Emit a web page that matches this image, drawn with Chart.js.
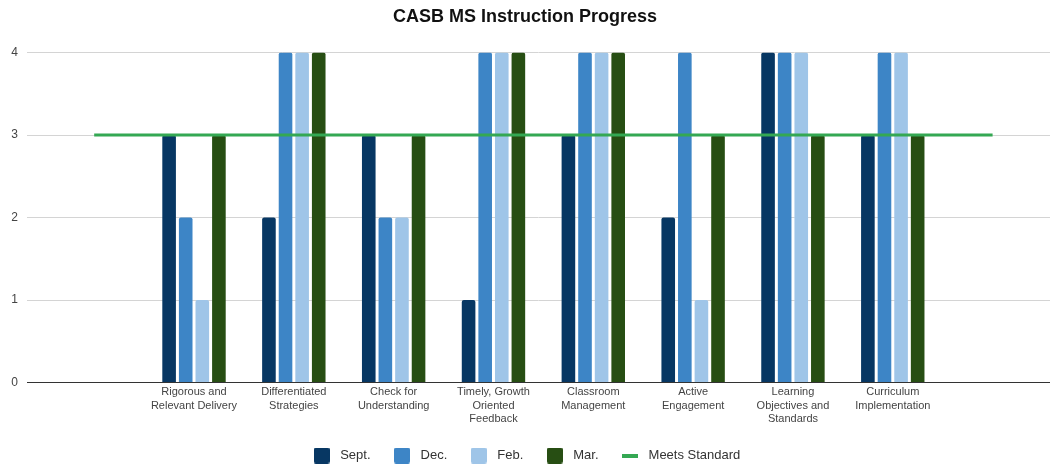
<!DOCTYPE html>
<html><head><meta charset="utf-8">
<script src="https://cdn.jsdelivr.net/npm/chart.js@4"></script>
<style>html,body{margin:0;padding:0;background:#fff}#wrap{width:1050px;height:466px}</style>
</head><body><div id="wrap"><canvas id="c" width="1050" height="466"></canvas></div>
<script>
// ---- data ----
const categories = [
  ["Rigorous and","Relevant Delivery"],
  ["Differentiated","Strategies"],
  ["Check for","Understanding"],
  ["Timely, Growth","Oriented","Feedback"],
  ["Classroom","Management"],
  ["Active","Engagement"],
  ["Learning","Objectives and","Standards"],
  ["Curriculum","Implementation"]
];
const seriesNames = ["Sept.","Dec.","Feb.","Mar."];
const sept = [3,2,3,1,3,2,4,3];
const dec  = [2,4,2,4,4,4,4,4];
const feb  = [1,4,2,4,4,1,4,4];
const mar  = [3,4,3,4,4,3,3,3];
const meetsStandardName = "Meets Standard";
const meetsStandard = [3,3,3,3,3,3,3,3,3,3];
const yTicks = [0,1,2,3,4];

// ---- styles ----
const colors = ["#073763","#3d85c6","#9fc5e8","#274e13"];
const lineColor = "#34a853";
const FONT = "'Liberation Sans', Arial, sans-serif";

function boxImg(color){
  const c=document.createElement('canvas'); c.width=16; c.height=16;
  const g=c.getContext('2d'); g.fillStyle=color; g.beginPath();
  if (g.roundRect) g.roundRect(0,0,16,16,2); else g.rect(0,0,16,16);
  g.fill(); return c;
}
function lineImg(color){
  const c=document.createElement('canvas'); c.width=16; c.height=4;
  const g=c.getContext('2d'); g.fillStyle=color; g.fillRect(0,0,16,4); return c;
}
const legendImgs = colors.map(boxImg).concat([lineImg(lineColor)]);

const seriesValues = [sept, dec, feb, mar];
const datasets = seriesValues.map((vals, s) => ({
  type: 'bar',
  label: seriesNames[s],
  data: vals.map((v,i)=>({x:i+1, y:v})),
  backgroundColor: colors[s],
  borderWidth: 0,
  borderRadius: {topLeft:2, topRight:2, bottomLeft:0, bottomRight:0},
  borderSkipped: 'start',
  categoryPercentage: 0.665,
  barPercentage: 0.82,
  order: 1
}));
datasets.push({
  type: 'line',
  label: meetsStandardName,
  data: meetsStandard.map((v,i)=>({x:i, y:v})),
  borderColor: lineColor,
  backgroundColor: lineColor,
  borderWidth: 3,
  pointRadius: 0,
  pointHoverRadius: 0,
  fill: false,
  order: 0
});

const tickColor = '#444';
new Chart(document.getElementById('c'), {
  data: { datasets },
  options: {
    responsive: false,
    animation: false,
    devicePixelRatio: 1,
    layout: { padding: { left: 0, right: 0, top: 0, bottom: -6 } },
    plugins: {
      tooltip: { enabled: false },
      title: {
        display: true,
        text: 'CASB MS Instruction Progress',
        color: '#111',
        font: { family: FONT, size: 18, weight: 'bold' },
        padding: { top: 6, bottom: 25 }
      },
      legend: {
        position: 'bottom',
        labels: {
          usePointStyle: true,
          pointStyleWidth: 24,
          padding: 19.5,
          color: '#333',
          font: { family: FONT, size: 13 },
          sort: (a, b) => a.datasetIndex - b.datasetIndex,
          generateLabels: (chart) => {
            const items = Chart.defaults.plugins.legend.labels.generateLabels(chart);
            items.forEach(it => { it.pointStyle = legendImgs[it.datasetIndex]; });
            return items;
          }
        }
      }
    },
    scales: {
      x: {
        type: 'linear',
        offset: false,
        bounds: 'data',
        min: -0.673,
        max: 9.575,
        grid: { display: false, drawTicks: false },
        border: { display: true, color: '#333', width: 1 },
        afterBuildTicks: (scale) => { scale.ticks = categories.map((c,i)=>({value:i+1})); },
        afterFit: (scale) => { scale.height = 47; },
        ticks: {
          autoSkip: false, maxRotation: 0, minRotation: 0,
          padding: 3,
          color: tickColor,
          font: { family: FONT, size: 11, lineHeight: 1.22 },
          callback: (v) => categories[Math.round(v)-1] || ''
        }
      },
      y: {
        min: 0, max: 4,
        afterBuildTicks: (scale) => { scale.ticks = yTicks.map(v=>({value:v})); },
        afterFit: (scale) => { scale.width = 27; },
        grid: {
          drawTicks: false,
          color: (ctx) => ctx.tick && ctx.tick.value === 0 ? '#333' : '#d4d4d4',
          lineWidth: 1
        },
        border: { display: false },
        ticks: {
          padding: 9,
          color: tickColor,
          font: { family: FONT, size: 12 }
        }
      }
    }
  }
});
</script>
</body></html>
